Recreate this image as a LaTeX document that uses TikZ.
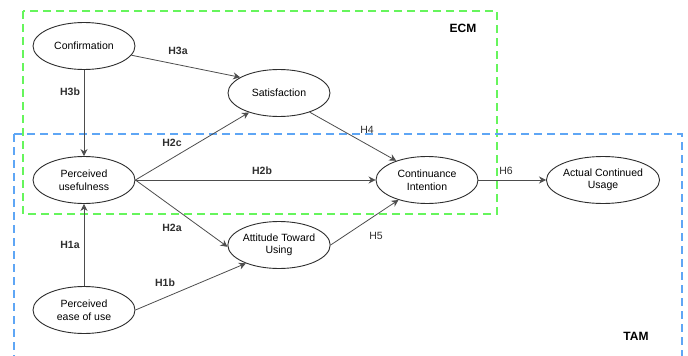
\documentclass[tikz,border=0pt]{standalone}
\usepackage{fontspec}
\setmainfont{Liberation Sans}
\usetikzlibrary{shapes.geometric,arrows.meta}
\newcommand{\EllW}{102}
\newcommand{\EllH}{47}
\definecolor{Black}{RGB}{46, 46, 46}
\definecolor{EcmGreen}{RGB}{102, 245, 92}
\definecolor{TamBlue}{RGB}{94, 166, 245}

\begin{document}
\begin{tikzpicture}[x=1pt,y=-1pt]
  \tikzstyle{every node}=[font=\fontsize{10.5}{12.5}\selectfont]
  \tikzstyle{construct}=[ellipse, draw=Black, line width=0.9pt, fill=white, minimum width=\EllW, minimum height=\EllH, inner sep=0pt, align=center]
  \tikzstyle{path}=[-{Stealth[length=7pt,width=7pt]}, draw=Black!85, line width=0.8pt]
  \tikzstyle{hyp}=[font=\fontsize{10.5}{12.5}\selectfont\bfseries, text=Black]
  \tikzstyle{hypthin}=[font=\fontsize{10.5}{12.5}\selectfont, text=Black]
  \useasboundingbox (0,0) rectangle (688,356);

  % Model boxes
  \draw[EcmGreen, line width=2pt, dash pattern=on 8pt off 5pt] (23,11) rectangle (497,214);
  \draw[TamBlue, line width=2.4pt, dash pattern=on 8pt off 5pt] (14,134) -- (682,134) -- (682,360);
  \draw[TamBlue, line width=2.4pt, dash pattern=on 8pt off 5pt] (14,134) -- (14,360);
  \node[font=\fontsize{12}{14}\selectfont\bfseries] (ecm) at (463,28) {ECM};
  \node[font=\fontsize{12}{14}\selectfont\bfseries] (tam) at (636,336) {TAM};

  % Constructs
  \node[construct] (conf) at (84,46) {Confirmation};
  \node[construct] (sat) at (279,93) {Satisfaction};
  \node[construct] (pu) at (84,180) {Perceived\\usefulness};
  \node[construct] (ci) at (427,180) {Continuance\\Intention};
  \node[construct] (acu) at (603,180) {Actual Continued\\Usage};
  \node[construct] (att) at (279,245) {Attitude Toward\\Using};
  \node[construct] (peou) at (84,310) {Perceived\\ease of use};

  % Paths
  \draw[path] (conf.-11) -- (sat.158);
  \draw[path] (conf) -- (pu);
  \draw[path] (pu.east) -- (sat.213);
  \draw[path] (pu) -- (ci);
  \draw[path] (pu.east) -- (att.182);
  \draw[path] (peou) -- (pu);
  \draw[path] (peou.east) -- (att.209);
  \draw[path] (sat.-32) -- (ci.148);
  \draw[path] (att.east) -- (ci.215);
  \draw[path] (ci) -- (acu);

  % Hypotheses
  \node[hyp] (h3a) at (178,51) {H3a};
  \node[hyp] (h3b) at (70,92) {H3b};
  \node[hyp] (h2c) at (172,143) {H2c};
  \node[hyp] (h2b) at (262,171) {H2b};
  \node[hyp] (h2a) at (172,228) {H2a};
  \node[hyp] (h1a) at (70,245) {H1a};
  \node[hyp] (h1b) at (165,283) {H1b};
  \node[hypthin] (h4) at (367,130) {H4};
  \node[hypthin] (h5) at (376,236) {H5};
  \node[hypthin] (h6) at (506,171) {H6};
\end{tikzpicture}
\end{document}
